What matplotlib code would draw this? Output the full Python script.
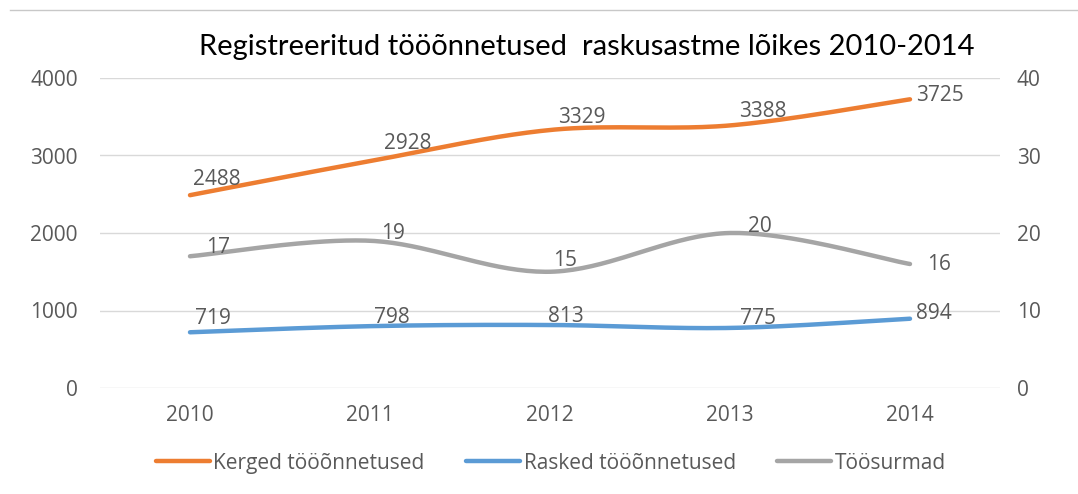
import numpy as np
import matplotlib.pyplot as plt
from matplotlib.lines import Line2D

years = ["2010", "2011", "2012", "2013", "2014"]
kerged = [2488, 2928, 3329, 3388, 3725]
rasked = [719, 798, 813, 775, 894]
surmad = [17, 19, 15, 20, 16]

title = "Registreeritud tööõnnetused  raskusastme lõikes 2010-2014"
names = ["Kerged tööõnnetused", "Rasked tööõnnetused", "Töösurmad"]
colors = ["#ED7D31", "#5B9BD5", "#A5A5A5"]
txt = "#595959"

# label offsets in pixels (dx, dy), last one is placed to the right
off_k = [(27, 16), (38, 18), (32, 13), (33, 14), (6, 4)]
off_r = [(23, 14), (22, 9), (16, 8), (28, 9), (6, 5)]
off_s = [(28, 9), (23, 7), (15, 11), (30, 6), (17, 0)]

plt.rcParams['font.family'] = ['Open Sans', 'DejaVu Sans']


def smooth(y, n=40):
    # excel-like smoothed line (Catmull-Rom as cubic Bezier)
    x = np.arange(len(y), dtype=float)
    y = np.asarray(y, dtype=float)
    P = np.column_stack([x, y])
    Pe = np.vstack([P[0], P, P[-1]])
    t = np.linspace(0, 1, n)[:, None]
    out = []
    for i in range(len(P) - 1):
        p0, p3 = Pe[i + 1], Pe[i + 2]
        c1 = p0 + (Pe[i + 2] - Pe[i]) / 6
        c2 = p3 - (Pe[i + 3] - Pe[i + 1]) / 6
        seg = ((1 - t) ** 3) * p0 + 3 * ((1 - t) ** 2) * t * c1 + 3 * (1 - t) * t ** 2 * c2 + t ** 3 * p3
        out.append(seg if i == 0 else seg[1:])
    out = np.vstack(out)
    return out[:, 0], out[:, 1]


fig = plt.figure(figsize=(10.78, 4.94), dpi=100)
ax = fig.add_axes([100 / 1078, 106 / 494, 900 / 1078, 310 / 494])
ax2 = ax.twinx()

ax.set_xlim(-0.5, 4.5)
ax.set_ylim(0, 4000)
ax2.set_ylim(0, 40)
ax.set_yticks(range(0, 4001, 1000))
ax2.set_yticks(range(0, 41, 10))
ax.set_xticks(range(len(years)))
ax.set_xticklabels(years)
ax.grid(axis='y', color='#D9D9D9', linewidth=1)
ax.set_axisbelow(True)
for a in (ax, ax2):
    for s in a.spines.values():
        s.set_visible(False)
    a.tick_params(length=0, labelsize=15, labelcolor=txt)
ax.tick_params(axis='y', pad=16)
ax2.tick_params(axis='y', pad=12)
ax.tick_params(axis='x', pad=12)

handles = []
for a, vals, c, nm, offs in [(ax, kerged, colors[0], names[0], off_k),
                             (ax, rasked, colors[1], names[1], off_r),
                             (ax2, surmad, colors[2], names[2], off_s)]:
    xs, ys = smooth(vals)
    ln, = a.plot(xs, ys, color=c, linewidth=3.2, solid_capstyle='round', label=nm)
    handles.append(ln)
    for i, v in enumerate(vals):
        last = i == len(vals) - 1
        a.annotate(str(v), (i, v), xytext=offs[i], textcoords='offset pixels',
                   ha='left' if last else 'center', va='center', fontsize=15, color=txt)

fig.text(587 / 1078, 1 - 47 / 494, title, ha='center', va='center', fontsize=21,
         color='black', family=['Lato', 'DejaVu Sans'])

fig.legend(handles=handles, loc='center', bbox_to_anchor=(0.511, 1 - 463 / 494),
           ncol=3, frameon=False, fontsize=15, labelcolor=txt, handlelength=2.6,
           handletextpad=0.15, columnspacing=2.0)

fig.add_artist(Line2D([10 / 1078, 1], [1 - 10 / 494, 1 - 10 / 494], color='#C8C8C8', linewidth=1,
                      transform=fig.transFigure))

fig.savefig("out.png", dpi=100)
